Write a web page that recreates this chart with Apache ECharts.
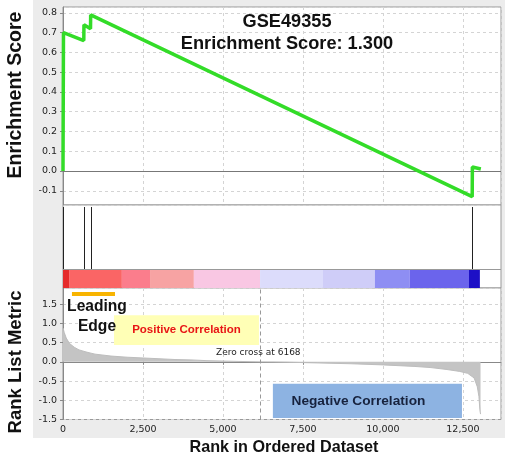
<!DOCTYPE html>
<html>
<head>
<meta charset="utf-8">
<script src="https://cdn.jsdelivr.net/npm/echarts@6/dist/echarts.min.js"></script>
<style>
html, body { margin: 0; padding: 0; background: #fff; }
#main { width: 505px; height: 461px; }
</style>
</head>
<body>
<div id="main"></div>
<script>
// running enrichment score: [rank, ES]
var esPoints = [[0, 0], [15, 0.70], [650, 0.66], [655, 0.74], [860, 0.72], [865, 0.79],
  [12790, -0.13], [12795, 0.02], [13060, 0.01]];
// gene set members in the ranked list
var hitRanks = [10, 660, 870, 12790];
// ranked list colour bar
var barStarts = [0, 190, 1840, 2720, 4090, 6160, 8125, 9750, 10840, 12690];
var barEnds = [190, 1840, 2720, 4090, 6160, 8125, 9750, 10840, 12690, 13030];
var barColors = ['#e52b2b', '#fa6565', '#fb7d8c', '#f7a3a3', '#f9c7e3', '#dcdcfb',
  '#cfcdf8', '#8e8ef3', '#6b64ec', '#1d10c6'];
// rank list metric: [rank, value]
var metricPoints = [[0, 0.88], [40, 0.76], [100, 0.62], [200, 0.48], [350, 0.38], [500, 0.31],
  [750, 0.25], [1000, 0.20], [1500, 0.15], [2000, 0.12], [2500, 0.10], [3000, 0.08],
  [3500, 0.06], [4000, 0.05], [4500, 0.03], [5000, 0.02], [5500, 0.01], [6168, 0],
  [7000, -0.01], [8000, -0.03], [9000, -0.05], [10000, -0.08], [11000, -0.12],
  [11500, -0.15], [12000, -0.20], [12400, -0.25], [12650, -0.30], [12850, -0.42],
  [12950, -0.65], [13000, -0.90], [13030, -1.25], [13050, -1.36]];
var zeroCross = 6168;
var leadingEdge = [280, 1625];
var posBox = [[1594, 1.21], [6125, 0.44]];
var negBox = [[6560, -0.57], [12470, -1.46]];
var xTicks = [0, 2500, 5000, 7500, 10000, 12500];

var myChart = echarts.init(document.getElementById('main'));
var labelFont = { fontFamily: 'DejaVu Sans', fontSize: 9.5, color: '#222' };
var dashGrid = { show: true, lineStyle: { color: '#d4d4d4', type: [3, 3], width: 1 } };

function xAxisFor(idx, showLabels) {
  return {
    type: 'value', gridIndex: idx, min: 0, max: 13690, interval: 2500,
    axisLine: { show: showLabels, lineStyle: { color: '#888' } },
    axisTick: { show: showLabels, length: 3, lineStyle: { color: '#888' } },
    axisLabel: Object.assign({ show: showLabels, margin: 5, showMaxLabel: false }, labelFont),
    splitLine: idx === 1 ? { show: false } : dashGrid
  };
}

option = {
  animation: false,
  backgroundColor: '#fff',
  grid: [
    { left: 63, right: 4, top: 7, height: 198, show: true, backgroundColor: '#fff', borderColor: '#999' },
    { left: 63, right: 4, top: 205, height: 83, show: true, backgroundColor: '#fff', borderColor: '#999' },
    { left: 63, right: 4, top: 288, height: 131.5, show: true, backgroundColor: '#fff', borderColor: '#999' }
  ],
  xAxis: [xAxisFor(0, false), xAxisFor(1, false), xAxisFor(2, true)],
  yAxis: [
    {
      type: 'value', gridIndex: 0, min: -0.172, max: 0.83, splitNumber: 10,
      minInterval: 0.1, maxInterval: 0.1,
      axisLine: { show: true, lineStyle: { color: '#888' } },
      axisTick: { show: true, length: 3, lineStyle: { color: '#888' } },
      axisLabel: Object.assign({
        margin: 6, showMinLabel: false, showMaxLabel: false,
        formatter: function (v) { return v.toFixed(1); }
      }, labelFont),
      splitLine: dashGrid
    },
    {
      type: 'value', gridIndex: 1, min: 0, max: 1,
      axisLine: { show: false }, axisTick: { show: false },
      axisLabel: { show: false }, splitLine: { show: false }
    },
    {
      type: 'value', gridIndex: 2, min: -1.5, max: 1.92, interval: 0.5,
      axisLine: { show: true, lineStyle: { color: '#888' } },
      axisTick: { show: true, length: 3, lineStyle: { color: '#888' } },
      axisLabel: Object.assign({
        margin: 6, showMaxLabel: false,
        formatter: function (v) { return v.toFixed(1); }
      }, labelFont),
      splitLine: dashGrid
    }
  ],
  series: [
    {
      type: 'line', xAxisIndex: 0, yAxisIndex: 0, data: esPoints,
      showSymbol: false, symbol: 'none', z: 5,
      lineStyle: { color: '#33dc28', width: 3.5 },
      markLine: {
        silent: true, symbol: 'none', label: { show: false },
        lineStyle: { color: '#777', type: 'solid', width: 1 },
        data: [{ yAxis: 0 }]
      }
    },
    {
      type: 'custom', xAxisIndex: 1, yAxisIndex: 1,
      data: barStarts.map(function (s, i) { return [s, barEnds[i], i]; }),
      encode: { x: [0, 1] },
      renderItem: function (params, api) {
        var p0 = api.coord([api.value(0), 0.217]);
        var p1 = api.coord([api.value(1), 0]);
        return {
          type: 'rect',
          shape: { x: p0[0], y: p0[1], width: p1[0] - p0[0], height: p1[1] - p0[1] },
          style: { fill: barColors[api.value(2)] }
        };
      }
    },
    {
      type: 'custom', xAxisIndex: 1, yAxisIndex: 1,
      data: hitRanks.map(function (r) { return [r]; }),
      encode: { x: 0 },
      z: 4,
      renderItem: function (params, api) {
        var p0 = api.coord([api.value(0), 0.217]);
        var p1 = api.coord([api.value(0), 0.976]);
        var x = Math.round(p0[0]) + 0.5;
        return {
          type: 'line',
          shape: { x1: x, y1: p0[1], x2: x, y2: p1[1] },
          style: { stroke: '#222', lineWidth: 1 }
        };
      },
      markLine: {
        silent: true, symbol: 'none', label: { show: false },
        lineStyle: { color: '#999', type: 'solid', width: 1 },
        data: [{ yAxis: 0.217 }]
      }
    },
    {
      type: 'line', xAxisIndex: 2, yAxisIndex: 2, data: metricPoints,
      showSymbol: false, symbol: 'none',
      lineStyle: { color: '#bdbdbd', width: 1 },
      areaStyle: { color: '#c4c4c4', opacity: 1 },
      markLine: {
        silent: true, symbol: 'none', label: { show: false },
        data: [
          { xAxis: zeroCross, lineStyle: { color: '#999', type: [4, 3], width: 1 } },
          [
            { coord: [leadingEdge[0], 1.77], lineStyle: { color: '#f8b400', type: 'solid', width: 4 } },
            { coord: [leadingEdge[1], 1.77] }
          ]
        ]
      },
      markArea: {
        silent: true,
        data: [
          [
            {
              coord: posBox[0], itemStyle: { color: '#ffffb6' },
              label: {
                show: true, position: 'inside', formatter: 'Positive Correlation',
                color: '#e81515', fontFamily: 'Liberation Sans', fontWeight: 'bold', fontSize: 11.5
              }
            },
            { coord: posBox[1] }
          ],
          [
            {
              coord: negBox[0], itemStyle: { color: '#8db3e2' },
              label: {
                show: true, position: 'inside', formatter: 'Negative Correlation', offset: [-9, 0],
                color: '#17223d', fontFamily: 'Liberation Sans', fontWeight: 'bold', fontSize: 13.7
              }
            },
            { coord: negBox[1] }
          ]
        ]
      }
    }
  ],
  graphic: [
    { type: 'rect', z: -100, silent: true, shape: { x: 33, y: 0, width: 472, height: 438 }, style: { fill: '#ececec' } },
    { type: 'text', x: 16, y: 95, rotation: Math.PI / 2, silent: true,
      style: { text: 'Enrichment Score', fontFamily: 'Liberation Sans', fontWeight: 'bold', fontSize: 19.5,
        fill: '#111', align: 'center', verticalAlign: 'middle', textAlign: 'center', textVerticalAlign: 'middle' } },
    { type: 'text', x: 16, y: 362, rotation: Math.PI / 2, silent: true,
      style: { text: 'Rank List Metric', fontFamily: 'Liberation Sans', fontWeight: 'bold', fontSize: 18.5,
        fill: '#111', align: 'center', verticalAlign: 'middle', textAlign: 'center', textVerticalAlign: 'middle' } },
    { type: 'text', x: 284, y: 448, silent: true,
      style: { text: 'Rank in Ordered Dataset', fontFamily: 'Liberation Sans', fontWeight: 'bold', fontSize: 16.2,
        fill: '#111', align: 'center', verticalAlign: 'middle', textAlign: 'center', textVerticalAlign: 'middle' } },
    { type: 'text', x: 287, y: 21.5, silent: true, z: 10,
      style: { text: 'GSE49355', fontFamily: 'Liberation Sans', fontWeight: 'bold', fontSize: 18.2,
        fill: '#111', align: 'center', verticalAlign: 'middle', textAlign: 'center', textVerticalAlign: 'middle' } },
    { type: 'text', x: 287, y: 43.5, silent: true, z: 10,
      style: { text: 'Enrichment Score: 1.300', fontFamily: 'Liberation Sans', fontWeight: 'bold', fontSize: 18.2,
        fill: '#111', align: 'center', verticalAlign: 'middle', textAlign: 'center', textVerticalAlign: 'middle' } },
    { type: 'text', x: 97, y: 307, silent: true, z: 10,
      style: { text: 'Leading', fontFamily: 'Liberation Sans', fontWeight: 'bold', fontSize: 15.6,
        fill: '#111', align: 'center', verticalAlign: 'middle', textAlign: 'center', textVerticalAlign: 'middle' } },
    { type: 'text', x: 97, y: 327, silent: true, z: 10,
      style: { text: 'Edge', fontFamily: 'Liberation Sans', fontWeight: 'bold', fontSize: 15.6,
        fill: '#111', align: 'center', verticalAlign: 'middle', textAlign: 'center', textVerticalAlign: 'middle' } },
    { type: 'text', x: 216, y: 353, silent: true, z: 10,
      style: { text: 'Zero cross at ' + zeroCross, fontFamily: 'DejaVu Sans', fontSize: 9,
        fill: '#222', align: 'left', verticalAlign: 'middle', textAlign: 'left', textVerticalAlign: 'middle' } }
  ]
};
myChart.setOption(option);
</script>
</body>
</html>
